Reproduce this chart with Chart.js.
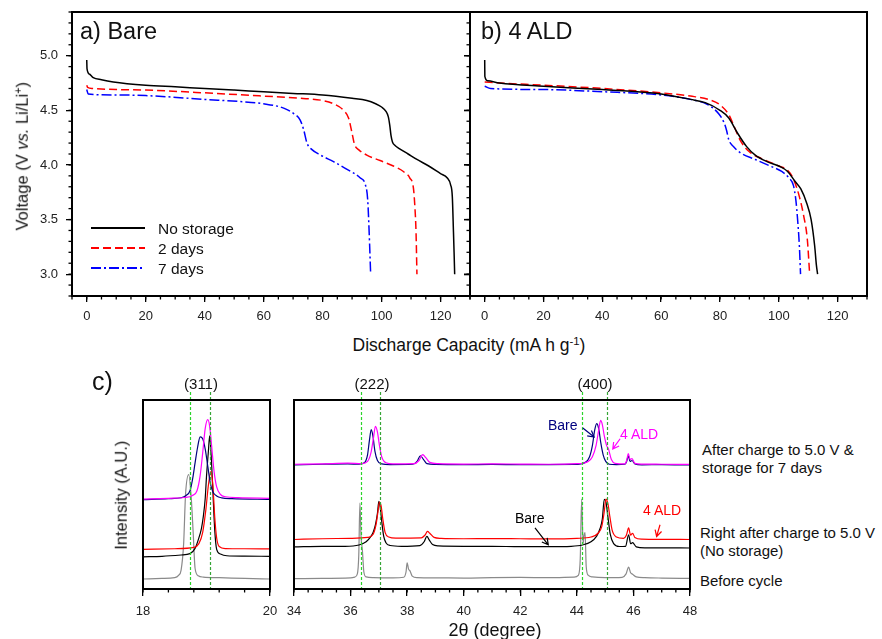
<!DOCTYPE html>
<html>
<head>
<meta charset="utf-8">
<script src="https://cdn.jsdelivr.net/npm/chart.js@4.4.0/dist/chart.umd.min.js"></script>
<style>
body { margin: 0; background: #fff; font-family: "Liberation Sans", Arial, sans-serif; color: #111; }
#wrap { position: relative; width: 882px; height: 639px; overflow: hidden; }
canvas { position: absolute; }
.t { position: absolute; white-space: nowrap; line-height: 1; }
.c { text-align: center; }
.rot { transform: rotate(-90deg); transform-origin: 50% 50%; }
sup { font-size: 65%; line-height: 0; vertical-align: 0.55em; }
</style>
</head>
<body>
<div id="wrap">
  <canvas id="ca" width="472" height="330" style="left:0;top:0"></canvas>
  <canvas id="cb" width="440" height="330" style="left:430px;top:0"></canvas>
  <canvas id="cc" width="180" height="269" style="left:100px;top:370px"></canvas>
  <canvas id="cd" width="420" height="269" style="left:280px;top:370px"></canvas>

  <div class="t" style="left:80px;top:20px;font-size:23.5px">a) Bare</div>
  <div class="t" style="left:481px;top:20px;font-size:23.5px">b) 4 ALD</div>
  <div class="t c rot" style="left:-78px;top:148px;width:200px;font-size:16.5px">Voltage (V <i>vs.</i> Li/Li<sup>+</sup>)</div>
  <div class="t c" style="left:269px;top:337px;width:400px;font-size:17.5px">Discharge Capacity (mA h g<sup>-1</sup>)</div>

  <div class="t" style="left:92px;top:369px;font-size:25px">c)</div>
  <div class="t c" style="left:151px;top:376px;width:100px;font-size:15px">(311)</div>
  <div class="t c" style="left:322px;top:376px;width:100px;font-size:15px">(222)</div>
  <div class="t c" style="left:545px;top:376px;width:100px;font-size:15px">(400)</div>
  <div class="t c rot" style="left:21px;top:487px;width:200px;font-size:16.5px">Intensity (A.U.)</div>
  <div class="t c" style="left:395px;top:621px;width:200px;font-size:18px">2θ (degree)</div>

  <div class="t" style="left:702px;top:442px;font-size:15px">After charge to 5.0 V &amp;</div>
  <div class="t" style="left:702px;top:460px;font-size:15px">storage for 7 days</div>
  <div class="t" style="left:700px;top:525px;font-size:15px">Right after charge to 5.0 V</div>
  <div class="t" style="left:700px;top:543px;font-size:15px">(No storage)</div>
  <div class="t" style="left:700px;top:573px;font-size:15px">Before cycle</div>

  <div class="t" style="left:548px;top:418px;font-size:14px;color:#00007f">Bare</div>
  <div class="t" style="left:620px;top:427px;font-size:14px;color:#ff00ff">4 ALD</div>
  <div class="t" style="left:515px;top:511px;font-size:14px;color:#000">Bare</div>
  <div class="t" style="left:643px;top:503px;font-size:14px;color:#ff0000">4 ALD</div>
</div>

<script>
Chart.defaults.font.family = '"Liberation Sans", Arial, sans-serif';
Chart.defaults.color = '#222';

// ---- discharge curves, a) bare ----
const capBareNo = [0, 0.1, 1, 2.2, 5, 9, 20, 30, 40, 50, 60, 70, 80, 90, 95, 98, 100, 101.5, 102.3, 102.8, 103.2, 103.7, 104.5, 106, 109, 112, 116, 120, 122.3, 123.4, 124, 124.4, 124.6, 124.8];
const voltBareNo = [4.96, 4.88, 4.83, 4.80, 4.78, 4.76, 4.73, 4.715, 4.70, 4.685, 4.67, 4.655, 4.64, 4.61, 4.59, 4.56, 4.53, 4.49, 4.44, 4.36, 4.27, 4.21, 4.18, 4.15, 4.10, 4.05, 3.99, 3.92, 3.88, 3.82, 3.71, 3.38, 3.20, 3.00];
const capBare2d = [0, 0.3, 2, 10, 20, 40, 60, 72.5, 80, 83.7, 87.1, 88.8, 90, 90.8, 92.2, 95, 99.5, 104, 107.4, 109.6, 110.8, 111.3, 111.7, 112];
const voltBare2d = [4.73, 4.71, 4.70, 4.69, 4.685, 4.66, 4.63, 4.61, 4.59, 4.56, 4.50, 4.43, 4.29, 4.19, 4.14, 4.09, 4.04, 3.99, 3.94, 3.88, 3.79, 3.62, 3.38, 3.00];
const capBare7d = [0, 0.5, 10, 20, 40, 52, 60, 66.8, 70.2, 72.4, 73.6, 74.7, 76.4, 79.3, 83.7, 88.3, 92.8, 94.5, 95.3, 95.8, 96.3];
const voltBare7d = [4.69, 4.65, 4.64, 4.635, 4.60, 4.58, 4.56, 4.52, 4.47, 4.41, 4.32, 4.20, 4.14, 4.09, 4.03, 3.96, 3.88, 3.82, 3.68, 3.38, 3.00];

// ---- discharge curves, b) 4 ALD ----
const capAldNo = [0, 0.05, 1, 5, 20, 40, 60, 70, 75, 80, 83, 86, 89, 92, 96, 100, 103, 105.5, 107.5, 109.5, 111, 112.2, 112.8, 113.2];
const voltAldNo = [4.96, 4.81, 4.77, 4.75, 4.72, 4.69, 4.65, 4.60, 4.57, 4.50, 4.43, 4.29, 4.17, 4.09, 4.03, 3.99, 3.94, 3.85, 3.78, 3.65, 3.50, 3.26, 3.08, 3.00];
const capAld2d = [0, 5, 20, 40, 60, 70, 76, 80, 83, 85, 87, 90, 94, 100, 103, 105, 107, 108.5, 109.7, 110.5];
const voltAld2d = [4.76, 4.75, 4.73, 4.70, 4.66, 4.63, 4.60, 4.55, 4.46, 4.34, 4.22, 4.12, 4.06, 3.99, 3.95, 3.87, 3.71, 3.53, 3.32, 3.00];
const capAld7d = [0, 2, 20, 40, 60, 70, 76, 79.5, 81.5, 82.3, 83, 84.5, 87, 92, 97, 101, 103.5, 105, 105.8, 106.4, 107, 107.4];
const voltAld7d = [4.72, 4.70, 4.69, 4.67, 4.64, 4.60, 4.55, 4.47, 4.38, 4.31, 4.23, 4.17, 4.11, 4.05, 3.99, 3.94, 3.88, 3.81, 3.68, 3.50, 3.26, 3.00];

const storageNames = ['No storage', '2 days', '7 days'];
const capTicks = [0, 20, 40, 60, 80, 100, 120];
const voltTicks = [3.0, 3.5, 4.0, 4.5, 5.0];

// ---- XRD, (311) window ----
const ttLowBefore = [18, 18.3, 18.5, 18.56, 18.6, 18.64, 18.67, 18.72, 18.76, 18.79, 18.82, 18.87, 18.95, 19.2, 19.6, 20];
const intLowBefore = [5.3, 5.6, 6.0, 7.2, 10, 24, 50, 60.5, 48, 30, 11, 7.0, 6.3, 6.0, 5.6, 5.3];
const ttLowBareNo = [18, 18.3, 18.6, 18.74, 18.82, 18.87, 18.92, 18.95, 18.98, 19.0, 19.03, 19.05, 19.07, 19.1, 19.13, 19.16, 19.22, 19.32, 19.6, 20];
const intLowBareNo = [17.0, 17.3, 18.0, 18.7, 21.5, 26, 32, 38.4, 48, 59.6, 73, 81, 73, 52, 31, 21, 18.5, 17.6, 17.4, 17.3];
const ttLowAldNo = [18, 18.5, 18.8, 18.88, 18.94, 18.99, 19.03, 19.07, 19.1, 19.13, 19.16, 19.2, 19.3, 19.6, 20];
const intLowAldNo = [21.0, 21.3, 22, 24, 30, 42, 55, 62.2, 55, 38, 27, 22.5, 21.4, 21.3, 21.2];
const ttLowBare7d = [18, 18.4, 18.6, 18.68, 18.74, 18.78, 18.82, 18.86, 18.9, 18.94, 18.98, 19.02, 19.06, 19.1, 19.16, 19.24, 19.4, 20];
const intLowBare7d = [47.3, 47.8, 48.3, 49.5, 52, 58, 66.7, 75, 80.5, 79.5, 74, 65, 56, 51.5, 49.2, 48.2, 47.8, 47.4];
const ttLowAld7d = [18, 18.4, 18.65, 18.78, 18.85, 18.9, 18.94, 18.98, 19.02, 19.05, 19.08, 19.12, 19.16, 19.22, 19.3, 19.5, 20];
const intLowAld7d = [47.5, 48.0, 48.4, 49.5, 52, 60, 72, 85, 89.6, 86, 76, 62, 54, 50, 48.8, 48.3, 48.0];

// ---- XRD, (222)/(400) window ----
const ttHighBefore = [34, 35, 36, 36.15, 36.24, 36.29, 36.33, 36.37, 36.42, 36.47, 36.55, 36.8, 37.5, 37.88, 37.96, 38.0, 38.05, 38.1, 38.18, 38.35, 39, 40, 41, 42, 43, 43.9, 44.05, 44.12, 44.17, 44.22, 44.25, 44.29, 44.33, 44.4, 44.55, 45, 45.6, 45.74, 45.83, 45.9, 45.97, 46.1, 46.4, 47, 48];
const intHighBefore = [5.5, 5.6, 5.9, 6.3, 8, 18, 45.5, 28, 20, 9, 6.4, 6.0, 5.9, 6.2, 9, 13.8, 10.5, 9.6, 6.8, 6.0, 5.9, 5.8, 6.0, 6.1, 6.0, 6.3, 7.2, 16, 47.6, 24, 28, 29.8, 12, 7.3, 6.4, 6.0, 6.2, 8, 11.6, 8.6, 7.8, 6.4, 6.0, 5.8, 5.6];
const ttHighBareNo = [34, 35, 35.8, 36.3, 36.55, 36.7, 36.8, 36.88, 36.95, 37.0, 37.05, 37.1, 37.17, 37.25, 37.4, 37.8, 38.45, 38.6, 38.7, 38.78, 38.9, 39.1, 40, 41, 42, 43, 43.8, 44.2, 44.5, 44.7, 44.82, 44.9, 44.97, 45.03, 45.1, 45.18, 45.3, 45.5, 45.72, 45.83, 45.9, 45.97, 46.1, 46.4, 47, 48];
const intHighBareNo = [22.3, 22.6, 22.6, 23.3, 25, 27.5, 30, 34, 40, 46.4, 43, 36, 28, 24.5, 23, 22.6, 23, 25, 27.8, 26, 23.5, 22.8, 22.6, 22.6, 22.4, 22.4, 22.6, 23.3, 25, 28, 32, 37, 47.5, 46, 38, 29, 24, 22.5, 22.6, 28.7, 24, 24.5, 22.3, 21.8, 21.8, 21.7];
const ttHighAldNo = [34, 35, 36, 36.6, 36.8, 36.9, 36.97, 37.02, 37.08, 37.14, 37.22, 37.35, 37.6, 38.5, 38.63, 38.72, 38.8, 38.95, 39.2, 40, 41, 42, 43, 44, 44.5, 44.75, 44.88, 44.96, 45.03, 45.1, 45.17, 45.25, 45.4, 45.65, 45.75, 45.83, 45.9, 45.97, 46.05, 46.3, 47, 48];
const intHighAldNo = [26.2, 26.6, 26.8, 27.3, 29, 34, 41, 46, 44, 37, 30, 27.5, 26.9, 27, 28.5, 30.5, 29.5, 27.3, 26.8, 26.6, 26.7, 26.6, 26.5, 26.8, 27.5, 29.5, 33, 40, 47.6, 45, 38, 31, 27.5, 26.8, 28.5, 32.3, 28.5, 29.5, 27.3, 26.4, 26.3, 26.2];
const ttHighBare7d = [34, 35, 35.9, 36.3, 36.5, 36.6, 36.67, 36.73, 36.79, 36.86, 36.95, 37.1, 37.4, 38.2, 38.35, 38.47, 38.58, 38.7, 39, 40, 41, 42, 43, 43.9, 44.3, 44.45, 44.55, 44.63, 44.7, 44.77, 44.85, 44.93, 45.02, 45.15, 45.4, 45.7, 45.76, 45.82, 45.88, 45.95, 46.05, 46.3, 47, 48];
const intHighBare7d = [65.6, 66.0, 66.2, 66.0, 67.0, 71, 79, 84.3, 81, 73, 68, 66.2, 65.8, 66, 67.5, 70.5, 68.5, 66.3, 65.9, 65.8, 65.9, 65.8, 65.8, 65.9, 67, 70, 76, 84, 87.5, 85, 77, 71, 67.5, 66, 65.8, 66, 67.5, 70.5, 67.5, 68, 66.2, 65.7, 65.8, 65.6];
const ttHighAld7d = [34, 35, 35.9, 36.4, 36.6, 36.72, 36.8, 36.88, 36.95, 37.02, 37.1, 37.25, 37.5, 38.25, 38.42, 38.55, 38.66, 38.8, 39.1, 40, 41, 42, 43, 44, 44.4, 44.55, 44.68, 44.77, 44.84, 44.9, 44.97, 45.05, 45.12, 45.22, 45.35, 45.7, 45.76, 45.82, 45.88, 45.95, 46.05, 46.3, 47, 48];
const intHighAld7d = [66.0, 66.2, 66.6, 66.3, 67.5, 72, 79, 86, 83, 76, 70, 66.8, 66.2, 66.3, 68, 71.1, 69.5, 67, 66.3, 66.1, 66.2, 66.1, 66.0, 66.3, 67.5, 70, 76, 84, 89.2, 87, 81, 76, 74, 68.5, 66.5, 66.2, 68, 71.7, 68.5, 69, 66.5, 66.1, 66.0, 65.9];

const ttLowTicks = [18, 20];
const ttHighTicks = [34, 36, 38, 40, 42, 44, 46, 48];
const peakLow = [18.74, 19.06];
const peakHigh = [36.36, 37.04, 44.19, 45.05];

function pts(xs, ys) {
    return xs.map((v, i) => ({ x: v, y: ys[i] }));
}
function steps(a, b, s) {
    let r = [];
    for (let v = a; v <= b + 1e-9; v += s) r.push(+v.toFixed(3));
    return r;
}

// frame, minor ticks, reference lines, arrows, line legend
const decor = {
    id: 'decor',
    afterDraw(chart, args, o) {
        const { ctx, chartArea: a } = chart;
        const x = chart.scales.x, y = chart.scales.y;
        ctx.save();
        (o.vlines || []).forEach(v => {
            let px = Math.round(x.getPixelForValue(v.x)) + 0.5;
            ctx.strokeStyle = v.color;
            ctx.lineWidth = 1.2;
            ctx.setLineDash([3, 2]);
            ctx.beginPath();
            ctx.moveTo(px, a.top - 8);
            ctx.lineTo(px, a.bottom);
            ctx.stroke();
        });
        ctx.setLineDash([]);
        ctx.strokeStyle = '#000';
        ctx.lineWidth = 2;
        ctx.strokeRect(a.left, a.top, a.right - a.left, a.bottom - a.top);
        ctx.lineWidth = 1.3;
        (o.majorY || []).forEach(v => {
            let py = y.getPixelForValue(v);
            ctx.beginPath(); ctx.moveTo(a.left, py); ctx.lineTo(a.left - 6, py); ctx.stroke();
        });
        (o.minorX || []).forEach(v => {
            let px = x.getPixelForValue(v);
            ctx.beginPath(); ctx.moveTo(px, a.bottom); ctx.lineTo(px, a.bottom + 3.5); ctx.stroke();
        });
        (o.minorY || []).forEach(v => {
            let py = y.getPixelForValue(v);
            ctx.beginPath(); ctx.moveTo(a.left, py); ctx.lineTo(a.left - 3.5, py); ctx.stroke();
        });
        (o.arrows || []).forEach(ar => {
            let x1 = x.getPixelForValue(ar.x1), y1 = y.getPixelForValue(ar.y1);
            let x2 = x.getPixelForValue(ar.x2), y2 = y.getPixelForValue(ar.y2);
            let ang = Math.atan2(y2 - y1, x2 - x1);
            ctx.strokeStyle = ar.color;
            ctx.lineWidth = 1.2;
            ctx.beginPath();
            ctx.moveTo(x1, y1); ctx.lineTo(x2, y2);
            ctx.moveTo(x2 - 7 * Math.cos(ang - 0.5), y2 - 7 * Math.sin(ang - 0.5));
            ctx.lineTo(x2, y2);
            ctx.lineTo(x2 - 7 * Math.cos(ang + 0.5), y2 - 7 * Math.sin(ang + 0.5));
            ctx.stroke();
        });
        if (o.legend) {
            const L = o.legend;
            ctx.font = '15.5px "Liberation Sans", Arial, sans-serif';
            chart.data.datasets.forEach((ds, i) => {
                let ly = L.y + i * L.dy;
                ctx.strokeStyle = ds.borderColor;
                ctx.lineWidth = 2;
                ctx.setLineDash(ds.borderDash || []);
                ctx.beginPath(); ctx.moveTo(L.x, ly); ctx.lineTo(L.x + L.len, ly); ctx.stroke();
                ctx.setLineDash([]);
                ctx.fillStyle = '#111';
                ctx.fillText(ds.label, L.x + L.len + 13, ly + 5.5);
            });
        }
        ctx.restore();
    }
};

const tickGrid = { drawOnChartArea: false, tickLength: 6, color: '#000', lineWidth: 1.3 };

function fitX(h) {
    return s => { s.height = h; s.paddingLeft = 0; s.paddingRight = 0; };
}
function fitY(w) {
    return s => { s.width = w; s.paddingTop = 0; s.paddingBottom = 0; };
}

function capAxis() {
    return {
        type: 'linear', min: -5, max: 130,
        afterBuildTicks: s => { s.ticks = capTicks.map(v => ({ value: v })); },
        afterFit: fitX(34),
        grid: tickGrid, border: { display: false },
        ticks: { font: { size: 13 }, padding: 7, maxRotation: 0 }
    };
}
function voltAxis(labels, w) {
    return {
        type: 'linear', min: 2.8, max: 5.4,
        afterBuildTicks: s => { s.ticks = voltTicks.map(v => ({ value: v })); },
        afterFit: fitY(w),
        grid: tickGrid, border: { display: false },
        ticks: { display: labels, font: { size: 13 }, padding: 8, callback: v => v.toFixed(1) }
    };
}
function ttAxis(min, max, majors) {
    return {
        type: 'linear', min: min, max: max,
        afterBuildTicks: s => { s.ticks = majors.map(v => ({ value: v })); },
        afterFit: fitX(50),
        grid: { drawOnChartArea: false, tickLength: 7, color: '#000', lineWidth: 1.3 },
        border: { display: false },
        ticks: { font: { size: 13 }, padding: 8, maxRotation: 0 }
    };
}

function dischargeSets(c0, v0, c1, v1, c2, v2) {
    return [
        { label: storageNames[0], data: pts(c0, v0), borderColor: '#000', borderWidth: 1.5 },
        { label: storageNames[1], data: pts(c1, v1), borderColor: '#ff0000', borderWidth: 1.5, borderDash: [8, 4] },
        { label: storageNames[2], data: pts(c2, v2), borderColor: '#0000ff', borderWidth: 1.5, borderDash: [10, 3, 2, 3] }
    ];
}
function xrdSets(p) {
    return [
        { data: pts(p[8], p[9]), borderColor: '#ff00ff' },
        { data: pts(p[6], p[7]), borderColor: '#00007f' },
        { data: pts(p[4], p[5]), borderColor: '#ff0000' },
        { data: pts(p[2], p[3]), borderColor: '#000' },
        { data: pts(p[0], p[1]), borderColor: '#8a8a8a' }
    ].map(d => Object.assign(d, { borderWidth: 1.2 }));
}

function makeChart(id, datasets, pad, xs, ys, dec) {
    return new Chart(document.getElementById(id), {
        type: 'line',
        data: { datasets: datasets },
        options: {
            responsive: false, animation: false, devicePixelRatio: 1,
            layout: { padding: pad },
            elements: { point: { radius: 0 }, line: { cubicInterpolationMode: 'monotone', fill: false } },
            plugins: { legend: { display: false }, tooltip: { enabled: false }, decor: dec },
            scales: { x: xs, y: ys }
        },
        plugins: [decor]
    });
}

const dischargeMinor = { minorX: steps(-5, 130, 5), minorY: steps(2.8, 5.4, 0.1) };

makeChart('ca',
    dischargeSets(capBareNo, voltBareNo, capBare2d, voltBare2d, capBare7d, voltBare7d),
    { top: 12, right: 2, left: 0, bottom: 0 }, capAxis(), voltAxis(true, 72),
    Object.assign({ legend: { x: 91, y: 228, dy: 20, len: 54 } }, dischargeMinor));

makeChart('cb',
    dischargeSets(capAldNo, voltAldNo, capAld2d, voltAld2d, capAld7d, voltAld7d),
    { top: 12, right: 3, left: 0, bottom: 0 }, capAxis(), voltAxis(false, 40),
    Object.assign({ majorY: voltTicks }, dischargeMinor));

makeChart('cc',
    xrdSets([ttLowBefore, intLowBefore, ttLowBareNo, intLowBareNo, ttLowAldNo, intLowAldNo, ttLowBare7d, intLowBare7d, ttLowAld7d, intLowAld7d]),
    { top: 30, right: 10, left: 43, bottom: 0 }, ttAxis(18, 20, ttLowTicks), { display: false, min: 0, max: 100 },
    {
        minorX: steps(18, 20, 0.4),
        vlines: [{ x: peakLow[0], color: '#2bd42b' }, { x: peakLow[1], color: '#35a535' }]
    });

makeChart('cd',
    xrdSets([ttHighBefore, intHighBefore, ttHighBareNo, intHighBareNo, ttHighAldNo, intHighAldNo, ttHighBare7d, intHighBare7d, ttHighAld7d, intHighAld7d]),
    { top: 30, right: 10, left: 14, bottom: 0 }, ttAxis(34, 48, ttHighTicks), { display: false, min: 0, max: 100 },
    {
        minorX: steps(34, 48, 0.5),
        vlines: [
            { x: peakHigh[0], color: '#2bd42b' }, { x: peakHigh[1], color: '#35a535' },
            { x: peakHigh[2], color: '#2bd42b' }, { x: peakHigh[3], color: '#35a535' }
        ],
        arrows: [
            { x1: 44.21, y1: 85.2, x2: 44.61, y2: 80.4, color: '#00007f' },
            { x1: 45.53, y1: 79.5, x2: 45.27, y2: 74.1, color: '#ff00ff' },
            { x1: 42.52, y1: 32.4, x2: 42.99, y2: 23.4, color: '#000' },
            { x1: 46.94, y1: 34.0, x2: 46.82, y2: 27.8, color: '#ff0000' }
        ]
    });
</script>
</body>
</html>
